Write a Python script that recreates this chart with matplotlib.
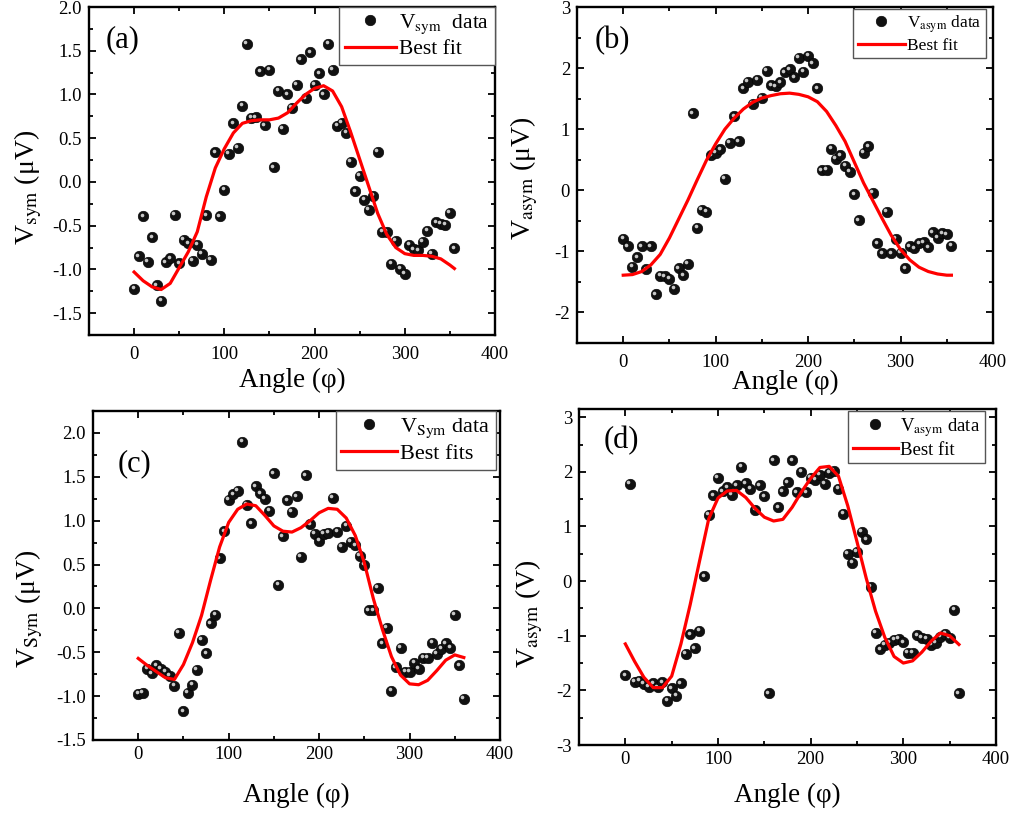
import matplotlib
matplotlib.use('Agg')
import matplotlib.pyplot as plt
from matplotlib.ticker import MultipleLocator, FormatStrFormatter
from matplotlib.transforms import ScaledTranslation

plt.rcParams['font.family'] = ['Liberation Serif', 'DejaVu Serif']
plt.rcParams['mathtext.fontset'] = 'stix'
plt.rcParams['axes.unicode_minus'] = False

# ---------------- data ----------------
angle_ab = [0, 5, 10, 15, 20, 25, 30, 35, 40, 45, 50, 55, 60, 65, 70, 75, 80, 85, 90, 95,
            100, 105, 110, 115, 120, 125, 130, 135, 140, 145, 150, 155, 160, 165, 170, 175,
            180, 185, 190, 195, 200, 205, 210, 215, 220, 225, 230, 235, 240, 245, 250, 255,
            260, 265, 270, 275, 280, 285, 290, 295, 300, 305, 310, 315, 320, 325, 330, 335,
            340, 345, 350, 355]
angle_cd = angle_ab + [360]

vsym_a = [-1.22, -0.85, -0.39, -0.91, -0.63, -1.18, -1.36, -0.92, -0.87, -0.375, -0.93, -0.66,
          -0.70, -0.90, -0.72, -0.82, -0.38, -0.89, 0.34, -0.39, -0.09, 0.32, 0.67, 0.39,
          0.87, 1.58, 0.735, 0.74, 1.265, 0.65, 1.28, 0.17, 1.045, 0.61, 1.00, 0.85,
          1.11, 1.40, 0.955, 1.485, 1.11, 1.24, 1.00, 1.58, 1.28, 0.64, 0.675, 0.565,
          0.23, -0.105, 0.07, -0.205, -0.32, -0.16, 0.345, -0.57, -0.57, -0.935, -0.67, -0.99,
          -1.05, -0.72, -0.77, -0.78, -0.685, -0.56, -0.82, -0.46, -0.48, -0.49, -0.35, -0.76]

vasym_b = [-0.79, -0.92, -1.25, -1.10, -0.92, -1.29, -0.92, -1.70, -1.40, -1.41, -1.45, -1.61,
           -1.28, -1.39, -1.20, 1.26, -0.61, -0.315, -0.35, 0.57, 0.61, 0.67, 0.19, 0.78,
           1.21, 0.80, 1.67, 1.78, 1.42, 1.81, 1.51, 1.96, 1.72, 1.70, 1.77, 1.93,
           1.98, 1.85, 2.17, 1.94, 2.20, 2.08, 1.67, 0.33, 0.34, 0.68, 0.52, 0.57,
           0.40, 0.30, -0.065, -0.49, 0.61, 0.72, -0.04, -0.87, -1.03, -0.35, -1.03, -0.79,
           -1.02, -1.28, -0.92, -0.95, -0.87, -0.85, -0.93, -0.69, -0.78, -0.70, -0.72, -0.91]

vsym_c = [-0.97, -0.96, -0.69, -0.74, -0.65, -0.69, -0.72, -0.77, -0.88, -0.28, -1.17, -0.96,
          -0.87, -0.70, -0.36, -0.51, -0.17, -0.07, 0.57, 0.88, 1.24, 1.30, 1.34, 1.90,
          1.18, 0.97, 1.39, 1.31, 1.25, 1.11, 1.54, 0.27, 0.82, 1.23, 1.10, 1.28,
          0.59, 1.52, 0.96, 0.85, 0.77, 0.85, 0.86, 1.26, 0.875, 0.70, 0.94, 0.76,
          0.72, 0.60, 0.50, -0.02, -0.02, 0.235, -0.40, -0.22, -0.94, -0.67, -0.45, -0.72,
          -0.72, -0.62, -0.69, -0.56, -0.56, -0.39, -0.52, -0.46, -0.40, -0.45, -0.07, -0.65,
          -1.03]

vasym_d = [-1.72, 1.78, -1.84, -1.82, -1.88, -1.93, -1.87, -1.94, -1.85, -2.19, -1.96, -2.10,
           -1.87, -1.33, -0.97, -1.23, -0.91, 0.09, 1.21, 1.57, 1.89, 1.64, 1.72, 1.58,
           1.75, 2.09, 1.79, 1.69, 1.31, 1.75, 1.55, -2.05, 2.21, 1.35, 1.64, 1.81,
           2.21, 1.63, 2.00, 1.63, 1.89, 1.85, 1.95, 1.78, 1.98, 2.02, 1.69, 1.23,
           0.50, 0.34, 0.54, 0.90, 0.77, -0.10, -0.95, -1.25, -1.17, -1.13, -1.07, -1.06,
           -1.12, -1.31, -1.31, -0.99, -1.04, -1.06, -1.17, -1.13, -1.02, -0.96, -1.04, -0.52,
           -2.05]

fit_angle_ab = [0, 10, 20, 30, 40, 50, 60, 70, 80, 90, 100, 110, 120, 130, 140, 150, 160, 170,
                180, 190, 200, 210, 220, 230, 240, 250, 260, 270, 280, 290, 300, 310, 320, 330,
                340, 350, 355]
fit_angle_cd = [0, 10, 20, 30, 40, 50, 60, 70, 80, 90, 100, 110, 120, 130, 140, 150, 160, 170,
                180, 190, 200, 210, 220, 230, 240, 250, 260, 270, 280, 290, 300, 310, 320, 330,
                340, 350, 360]

fit_a = [-1.03, -1.13, -1.20, -1.23, -1.16, -0.98, -0.80, -0.57, -0.17, 0.16, 0.38, 0.56, 0.67,
         0.70, 0.71, 0.71, 0.73, 0.79, 0.90, 1.00, 1.07, 1.10, 1.04, 0.86, 0.57, 0.26, -0.05,
         -0.36, -0.60, -0.75, -0.82, -0.84, -0.84, -0.85, -0.88, -0.95, -0.99]
fit_b = [-1.39, -1.38, -1.33, -1.22, -1.05, -0.78, -0.47, -0.16, 0.17, 0.49, 0.76, 1.00, 1.18,
         1.33, 1.44, 1.51, 1.55, 1.58, 1.59, 1.57, 1.53, 1.45, 1.29, 1.06, 0.80, 0.46, 0.12,
         -0.17, -0.46, -0.74, -0.97, -1.14, -1.26, -1.33, -1.37, -1.39, -1.39]
fit_c = [-0.57, -0.65, -0.72, -0.79, -0.81, -0.64, -0.39, -0.08, 0.32, 0.70, 0.98, 1.13, 1.19,
         1.17, 1.06, 0.94, 0.88, 0.87, 0.92, 1.00, 1.09, 1.14, 1.13, 1.03, 0.83, 0.52, 0.11,
         -0.24, -0.55, -0.76, -0.86, -0.87, -0.82, -0.71, -0.59, -0.53, -0.56]
fit_d = [-1.15, -1.47, -1.76, -1.95, -1.95, -1.74, -1.15, -0.43, 0.36, 1.14, 1.52, 1.65, 1.66,
         1.53, 1.33, 1.17, 1.10, 1.13, 1.35, 1.63, 1.88, 2.08, 2.10, 1.92, 1.38, 0.72, 0.05,
         -0.55, -1.03, -1.38, -1.50, -1.46, -1.30, -1.10, -0.95, -1.00, -1.16]

panel_letters = ['(a)', '(b)', '(c)', '(d)']
ylabels = [r'V$_{\mathrm{sym}}$ (μV)', r'V$_{\mathrm{asym}}$ (μV)',
           r'V$_{\mathrm{Sym}}$ (μV)', r'V$_{\mathrm{asym}}$ (V)']
data_labels = [r'V$_{\mathrm{sym}}$  data', r'V$_{\mathrm{asym}}$ data',
               r'V$_{\mathrm{Sym}}$ data', r'V$_{\mathrm{asym}}$ data']
fit_labels = ['Best fit', 'Best fit', 'Best fits', 'Best fit']
xlabel = 'Angle (φ)'

# ---------------- layout ----------------
W, H = 1013, 814
fig = plt.figure(figsize=(W / 100, H / 100), dpi=100)


def rect(x0, y0, x1, y1):
    return [x0 / W, 1 - y1 / H, (x1 - x0) / W, (y1 - y0) / H]


panels = [
    dict(rect=rect(89, 7, 495, 335), x=angle_ab, y=vsym_a, fx=fit_angle_ab, fy=fit_a,
         ylim=(-1.75, 2.0), major=0.5, minor=0.25, fmt='%.1f',
         ylab=(-0.11, 0.45), xlab=(0.5, -0.10), xpad=8,
         leg_anchor=(1.0, 1.0), leg_fs=15.5, leg_hl=2.4, letter=(0.042, 0.90)),
    dict(rect=rect(577, 7, 993, 343), x=angle_ab, y=vasym_b, fx=fit_angle_ab, fy=fit_b,
         ylim=(-2.5, 3.0), major=1, minor=0.5, fmt='%d',
         ylab=(-0.09, 0.49), xlab=(0.5, -0.08), xpad=8,
         leg_anchor=(0.983, 0.994), leg_fs=12.5, leg_hl=2.7, letter=(0.043, 0.90)),
    dict(rect=rect(93, 411, 500, 740), x=angle_cd, y=vsym_c, fx=fit_angle_cd, fy=fit_c,
         ylim=(-1.5, 2.25), major=0.5, minor=0.25, fmt='%.1f',
         ylab=(-0.118, 0.40), xlab=(0.5, -0.13), xpad=4,
         leg_anchor=(0.990, 1.0), leg_fs=16, leg_hl=2.5, letter=(0.061, 0.84)),
    dict(rect=rect(579, 409, 996, 745), x=angle_cd, y=vasym_d, fx=fit_angle_cd, fy=fit_d,
         ylim=(-3.0, 3.15), major=1, minor=0.5, fmt='%d',
         ylab=(-0.082, 0.39), xlab=(0.5, -0.113), xpad=4,
         leg_anchor=(0.974, 0.994), leg_fs=13.5, leg_hl=2.4, letter=(0.058, 0.905)),
]

for i, p in enumerate(panels):
    ax = fig.add_axes(p['rect'])
    ax.set_xlim(-50, 400)
    ax.set_ylim(*p['ylim'])
    ax.xaxis.set_major_locator(MultipleLocator(100))
    ax.xaxis.set_minor_locator(MultipleLocator(50))
    ax.yaxis.set_major_locator(MultipleLocator(p['major']))
    ax.yaxis.set_minor_locator(MultipleLocator(p['minor']))
    ax.yaxis.set_major_formatter(FormatStrFormatter(p['fmt']))
    ax.tick_params(which='both', direction='in', top=True, right=True, width=1.3,
                   labelsize=13.5)
    ax.tick_params(which='major', length=5)
    ax.tick_params(which='minor', length=2.8)
    ax.tick_params(axis='x', pad=p['xpad'])
    ax.tick_params(axis='y', pad=5)
    for s in ax.spines.values():
        s.set_linewidth(1.7)

    # data balls: dark sphere with a light highlight
    ball, = ax.plot(p['x'], p['y'], 'o', ls='none', ms=7.6, mfc='#111111', mec='#000000',
                    mew=0.4, zorder=3)
    off = ScaledTranslation(-1.1 / 72, 1.1 / 72, fig.dpi_scale_trans)
    ax.plot(p['x'], p['y'], 'o', ls='none', ms=2.6, mfc='#c8c8c8', mec='none',
            zorder=4, transform=ax.transData + off)
    fit, = ax.plot(p['fx'], p['fy'], '-', color='#ff0000', lw=2.3, zorder=5)

    ax.set_ylabel(ylabels[i], fontsize=20)
    ax.yaxis.set_label_coords(*p['ylab'])
    ax.set_xlabel(xlabel, fontsize=19.5)
    ax.xaxis.set_label_coords(*p['xlab'])

    ax.text(p['letter'][0], p['letter'][1], panel_letters[i], transform=ax.transAxes,
            fontsize=22, ha='left', va='center')

    leg = ax.legend([ball, fit], [data_labels[i], fit_labels[i]],
                    loc='upper right', bbox_to_anchor=p['leg_anchor'], borderaxespad=0,
                    fontsize=p['leg_fs'], handlelength=p['leg_hl'], handletextpad=0.15,
                    borderpad=0.25, labelspacing=0.15, fancybox=False, framealpha=1,
                    edgecolor='#555555')
    leg.get_frame().set_linewidth(1.0)
    leg.set_zorder(10)

fig.savefig('out.png', dpi=100, facecolor='white')
